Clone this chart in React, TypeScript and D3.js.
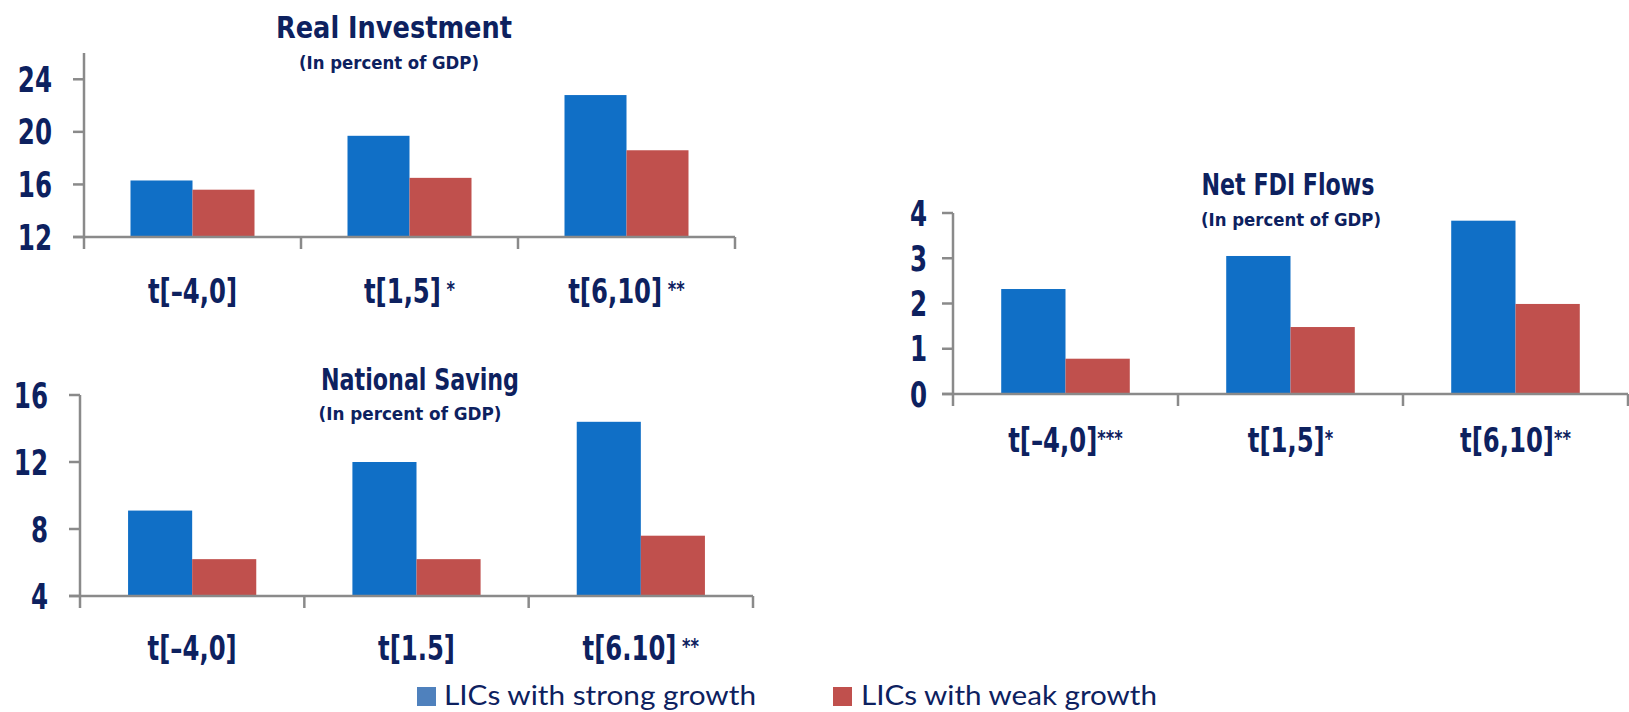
import React from "react";
import * as d3 from "d3";

// Category labels for each panel (significance stars as printed)
const investmentLabels = ["t[–4,0]", "t[1,5] *", "t[6,10] **"];
const savingLabels = ["t[–4,0]", "t[1.5]", "t[6.10] **"];
const fdiLabels = ["t[–4,0]***", "t[1,5]*", "t[6,10]**"];

const seriesNames = ["LICs with strong growth", "LICs with weak growth"];

// Real investment, percent of GDP
const investmentStrong = [16.3, 19.7, 22.8];
const investmentWeak = [15.6, 16.5, 18.6];
const investmentTicks = [12, 16, 20, 24];
const investmentDomain = [12, 26];

// National saving, percent of GDP
const savingStrong = [9.1, 12.0, 14.4];
const savingWeak = [6.2, 6.2, 7.6];
const savingTicks = [4, 8, 12, 16];
const savingDomain = [4, 16];

// Net FDI flows, percent of GDP
const fdiStrong = [2.32, 3.05, 3.83];
const fdiWeak = [0.78, 1.48, 1.99];
const fdiTicks = [0, 1, 2, 3, 4];
const fdiDomain = [0, 4];

const BAR_COLORS = ["#106fc6", "#c0504d"];
const LEGEND_COLORS = ["#4f81bd", "#c0504d"];
const TEXT = "#0d215f";
const AXIS = "#8a8a8a";
const NARROW = '"Liberation Sans Narrow", "Arial Narrow", "DejaVu Sans Condensed", sans-serif';
const LEGEND_FONT = 'Lato, "Open Sans", "Noto Sans", sans-serif';

type Layout = {
  left: number;
  right: number;
  top: number;
  bottom: number;
  tickLabelX: number;
  catBaseline: number;
  title: { x: number; y: number; w: number };
  sub: { x: number; y: number; w: number };
};

type PanelProps = {
  title: string;
  labels: string[];
  strong: number[];
  weak: number[];
  ticks: number[];
  domain: number[];
  layout: Layout;
};

// split "t[6,10] **" into the period text and its trailing stars
function splitStars(label: string): [string, string] {
  const m = label.match(/^(.*?)(\s*\*+)?$/);
  return m ? [m[1], m[2] ?? ""] : [label, ""];
}

function BarPanel({ title, labels, strong, weak, ticks, domain, layout }: PanelProps) {
  const { left, right, top, bottom } = layout;
  const y = d3.scaleLinear().domain(domain).range([bottom, top]);
  // gap between clusters is 150% of one bar's width
  const x = d3
    .scaleBand<string>()
    .domain(labels)
    .range([left, right])
    .paddingInner(1.5 / 3.5)
    .paddingOuter(0.75 / 3.5);
  const inner = d3
    .scaleBand<number>()
    .domain([0, 1])
    .range([0, x.bandwidth()]);
  const step = x.step();
  const bounds = d3.range(labels.length + 1).map((i) => left + i * step);
  const series = [strong, weak];

  return (
    <g>
      <text
        x={layout.title.x}
        y={layout.title.y}
        textAnchor="middle"
        fontFamily={NARROW}
        fontWeight="bold"
        fontSize={31}
        fill={TEXT}
        textLength={layout.title.w}
        lengthAdjust="spacingAndGlyphs"
      >
        {title}
      </text>
      <text
        x={layout.sub.x}
        y={layout.sub.y}
        textAnchor="middle"
        fontFamily={NARROW}
        fontWeight="bold"
        fontSize={17}
        fill={TEXT}
        textLength={layout.sub.w}
        lengthAdjust="spacingAndGlyphs"
      >
        (In percent of GDP)
      </text>

      {series.map((vals, s) =>
        vals.map((v, i) => (
          <rect
            key={`${s}-${i}`}
            x={(x(labels[i]) as number) + (inner(s) as number)}
            y={y(v)}
            width={inner.bandwidth()}
            height={y(domain[0]) - y(v)}
            fill={BAR_COLORS[s]}
          />
        ))
      )}

      {/* value axis */}
      <line x1={left} x2={left} y1={top} y2={bottom} stroke={AXIS} strokeWidth={2.5} />
      {ticks.map((t) => (
        <g key={t}>
          <line x1={left - 11} x2={left} y1={y(t)} y2={y(t)} stroke={AXIS} strokeWidth={2.5} />
          <g transform={`translate(${layout.tickLabelX},${y(t)}) scale(0.78,1)`}>
            <text
              dy="0.36em"
              textAnchor="end"
              fontFamily={NARROW}
              fontWeight="bold"
              fontSize={35}
              fill={TEXT}
            >
              {t}
            </text>
          </g>
        </g>
      ))}

      {/* category axis */}
      <line x1={left - 11} x2={right} y1={bottom} y2={bottom} stroke={AXIS} strokeWidth={2.5} />
      {bounds.map((bx, i) => (
        <line key={i} x1={bx} x2={bx} y1={bottom} y2={bottom + 12} stroke={AXIS} strokeWidth={2.5} />
      ))}
      {labels.map((c) => {
        const [base, stars] = splitStars(c);
        return (
          <g
            key={c}
            transform={`translate(${(x(c) as number) + x.bandwidth() / 2},${layout.catBaseline}) scale(0.82,1)`}
          >
            <text
              textAnchor="middle"
              fontFamily={NARROW}
              fontWeight="bold"
              fontSize={33}
              fill={TEXT}
            >
              {base}
              {stars && (
                <tspan fontSize={22} dy={-6}>
                  {stars}
                </tspan>
              )}
            </text>
          </g>
        );
      })}
    </g>
  );
}

export default function App() {
  const legendItems = [
    { box: 417, text: 444, w: 312 },
    { box: 833, text: 861, w: 296 },
  ];
  return (
    <svg
      width={1629}
      height={712}
      style={{ position: "absolute", left: 0, top: 0, background: "#ffffff" }}
    >
      <BarPanel
        title="Real Investment"
        labels={investmentLabels}
        strong={investmentStrong}
        weak={investmentWeak}
        ticks={investmentTicks}
        domain={investmentDomain}
        layout={{
          left: 84,
          right: 735,
          top: 53,
          bottom: 237,
          tickLabelX: 52,
          catBaseline: 303,
          title: { x: 394, y: 38, w: 236 },
          sub: { x: 389, y: 69, w: 180 },
        }}
      />
      <BarPanel
        title="National Saving"
        labels={savingLabels}
        strong={savingStrong}
        weak={savingWeak}
        ticks={savingTicks}
        domain={savingDomain}
        layout={{
          left: 80,
          right: 753,
          top: 395,
          bottom: 596,
          tickLabelX: 48,
          catBaseline: 660,
          title: { x: 420, y: 390, w: 198 },
          sub: { x: 410, y: 420, w: 183 },
        }}
      />
      <BarPanel
        title="Net FDI Flows"
        labels={fdiLabels}
        strong={fdiStrong}
        weak={fdiWeak}
        ticks={fdiTicks}
        domain={fdiDomain}
        layout={{
          left: 953,
          right: 1628,
          top: 213,
          bottom: 394,
          tickLabelX: 927,
          catBaseline: 452,
          title: { x: 1288, y: 195, w: 173 },
          sub: { x: 1291, y: 226, w: 180 },
        }}
      />

      {seriesNames.map((name, i) => (
        <g key={name}>
          <rect x={legendItems[i].box} y={687} width={19} height={19} fill={LEGEND_COLORS[i]} />
          <text
            x={legendItems[i].text}
            y={705}
            fontFamily={LEGEND_FONT}
            fontSize={27}
            fill={TEXT}
            textLength={legendItems[i].w}
            lengthAdjust="spacingAndGlyphs"
          >
            {name}
          </text>
        </g>
      ))}
    </svg>
  );
}
